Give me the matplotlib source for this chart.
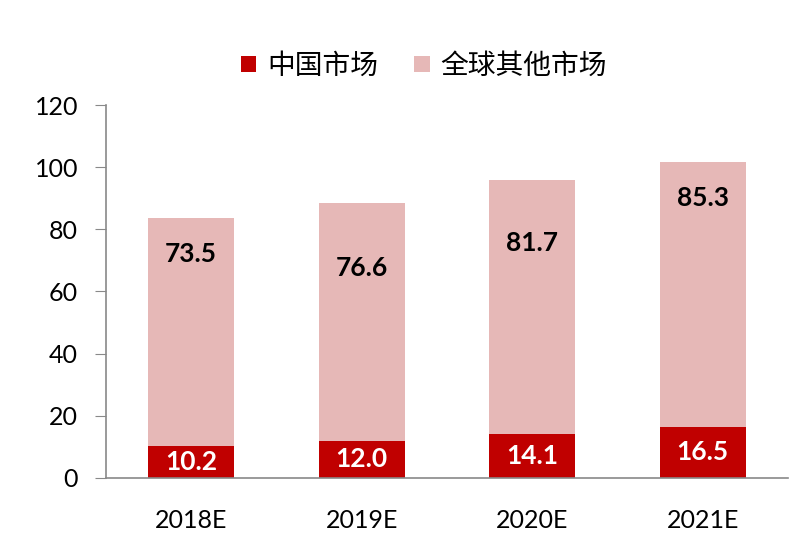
import matplotlib.pyplot as plt
import numpy as np

years = ["2018E", "2019E", "2020E", "2021E"]
china = [10.2, 12.0, 14.1, 16.5]
rest = [73.5, 76.6, 81.7, 85.3]
# y-position of the upper value labels as placed in the original
rest_label_y = [72.0, 67.5, 75.5, 90.0]

plt.rcParams['font.family'] = ['Lato', 'DejaVu Sans']

fig = plt.figure(figsize=(8, 5.58), dpi=100)
ax = fig.add_axes([0.1325, 0.1434, 0.8525, 0.6684])

x = np.arange(len(years))
red = "#C00000"
pink = "#E6B8B7"
ax.bar(x, china, width=0.506, color=red, label="中国市场")
ax.bar(x, rest, width=0.506, bottom=china, color=pink, label="全球其他市场")

for i in range(len(years)):
    ax.text(x[i], china[i] / 2, f"{china[i]:.1f}", ha="center", va="center",
            color="white", fontsize=19, fontweight="bold")
    ax.text(x[i], rest_label_y[i], f"{rest[i]:.1f}", ha="center", va="center",
            color="black", fontsize=19, fontweight="bold")

ax.set_xlim(-0.5, 3.5)
ax.set_ylim(0, 120)
ax.set_yticks(range(0, 121, 20))
ax.set_xticks(x)
ax.set_xticklabels(years)
ax.tick_params(axis="y", labelsize=18, length=8, color="#898989", pad=12)
ax.tick_params(axis="x", labelsize=18, length=0, pad=22)
for s in ["top", "right"]:
    ax.spines[s].set_visible(False)
for s in ["left", "bottom"]:
    ax.spines[s].set_color("#898989")
    ax.spines[s].set_linewidth(1.2)

fig.legend(loc="center", bbox_to_anchor=(0.53, 0.882), ncol=2, frameon=False,
           prop={"family": ["Noto Sans CJK SC", "DejaVu Sans"], "size": 20},
           handlelength=0.55, handleheight=0.55, handletextpad=0.4, columnspacing=1.3)

fig.savefig("out.png", dpi=100)
